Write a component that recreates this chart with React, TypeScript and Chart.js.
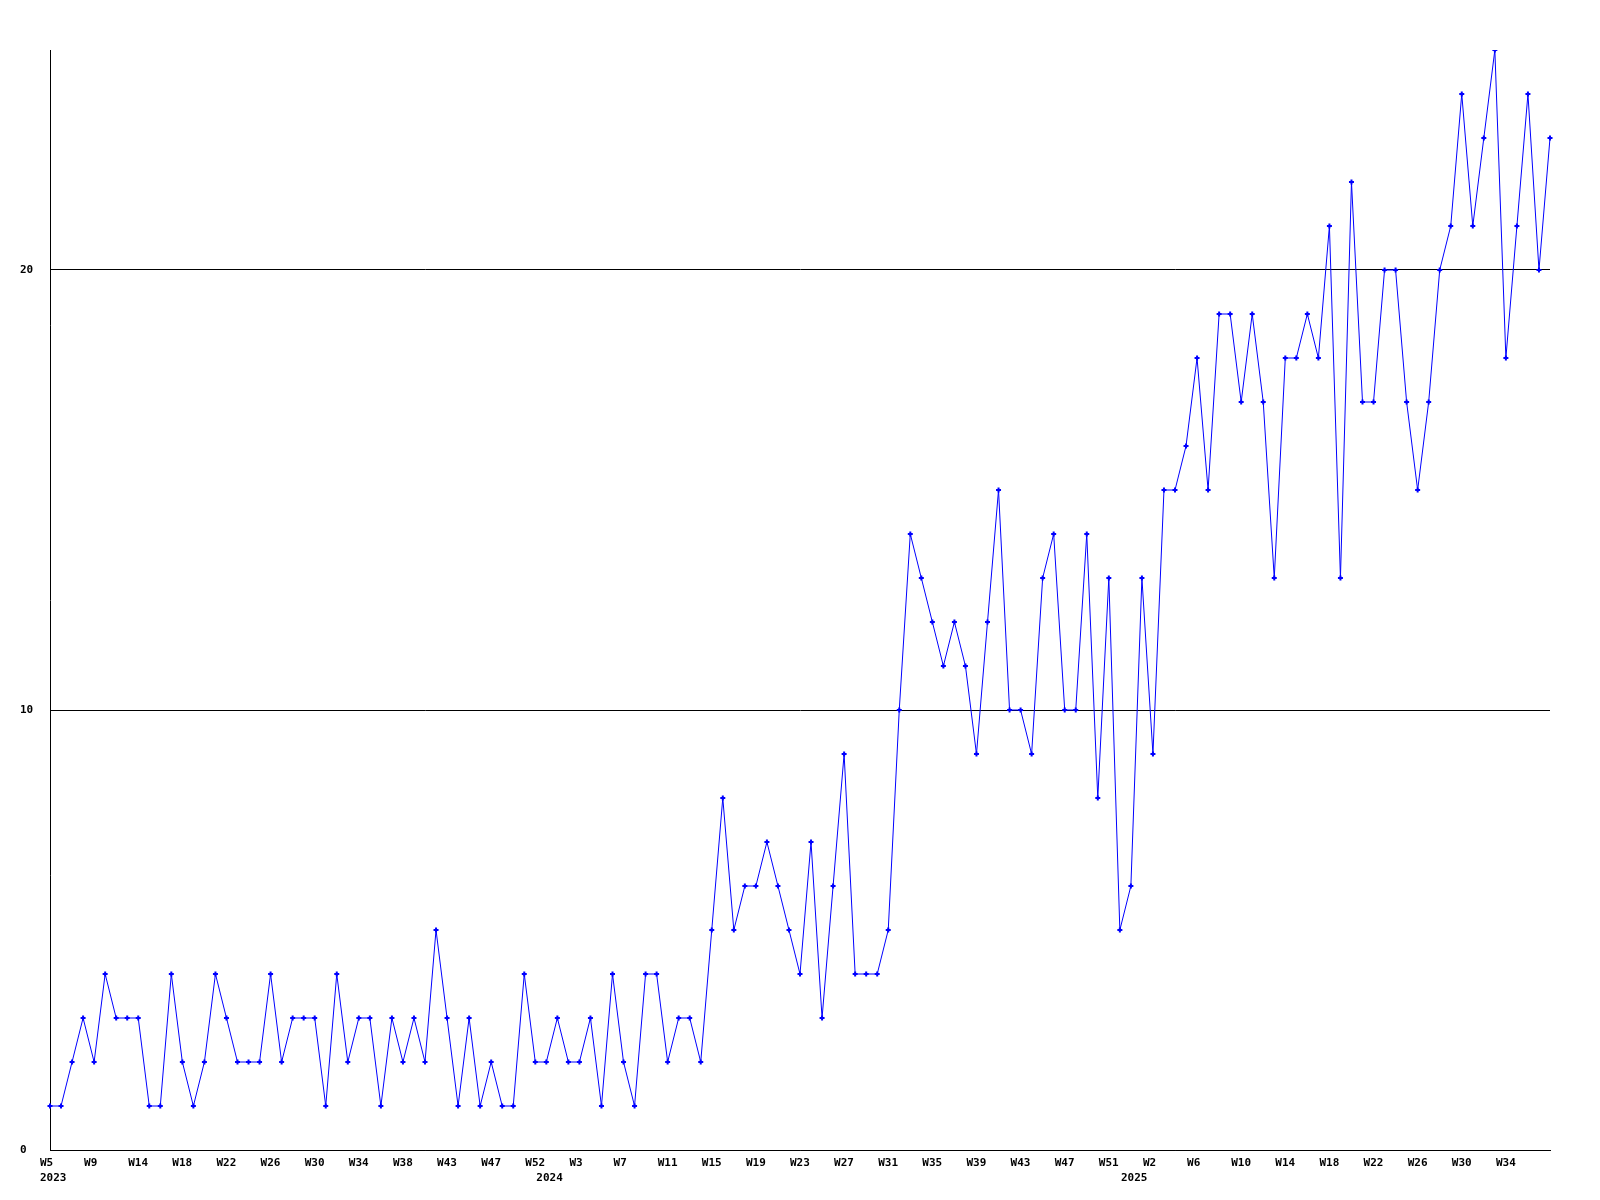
import React, { useEffect, useRef } from "react";
import { Chart, registerables } from "chart.js";

Chart.register(...registerables);

// Weekly counts, 2023 W5 .. 2025 (137 weeks)
const values: number[] = [
  1, 1, 2, 3, 2, 4, 3, 3, 3, 1, 1, 4, 2, 1, 2, 4, 3, 2, 2, 2, 4, 2, 3, 3, 3, 1, 4, 2, 3, 3, 1, 3, 2,
  3, 2, 5, 3, 1, 3, 1, 2, 1, 1, 4, 2, 2, 3, 2, 2, 3, 1, 4, 2, 1, 4, 4, 2, 3, 3, 2, 5,
  8, 5, 6, 6, 7, 6, 5, 4, 7, 3, 6, 9, 4, 4, 4, 5,
  10, 14, 13, 12, 11, 12, 11, 9, 12, 15, 10, 10, 9, 13, 14, 10, 10, 14, 8, 13, 5, 6, 13, 9,
  15, 15, 16, 18, 15, 19, 19, 17, 19, 17, 13, 18, 18, 19, 18, 21, 13, 22, 17, 17, 20, 20,
  17, 15, 17, 20, 21, 24, 21, 23, 25, 18, 21, 24, 20, 23,
];

// Week tick labels, one every 4th week
const weekLabels: string[] = [
  "W5", "W9", "W14", "W18", "W22", "W26", "W30", "W34", "W38", "W43", "W47", "W52",
  "W3", "W7", "W11", "W15", "W19", "W23", "W27", "W31", "W35", "W39", "W43", "W47", "W51",
  "W2", "W6", "W10", "W14", "W18", "W22", "W26", "W30", "W34",
];
const weekLabelStep = 4;

// Year labels and the week index where each year starts
const yearLabels: string[] = ["2023", "2024", "2025"];
const yearStartIndex: number[] = [0, 45, 98];

const yTicks: number[] = [0, 10, 20];

const categories: string[] = values.map((_, i) => String(i));

function tickLabel(i: number): string | string[] | null {
  const week = i % weekLabelStep === 0 ? weekLabels[i / weekLabelStep] : undefined;
  const yi = yearStartIndex.indexOf(i);
  const year = yi >= 0 ? yearLabels[yi] : undefined;
  if (week !== undefined && year !== undefined) return [week, year];
  if (year !== undefined) return ["", year];
  if (week !== undefined) return week;
  return null;
}

const FONT = { family: "'DejaVu Sans Mono', monospace", size: 11, weight: "bold" as const, lineHeight: 15 / 11 };

export default function App() {
  const ref = useRef<HTMLCanvasElement | null>(null);
  useEffect(() => {
    if (!ref.current) return;
    const chart = new Chart(ref.current, {
      type: "line",
      data: {
        labels: categories,
        datasets: [
          {
            data: values,
            borderColor: "#0000ff",
            backgroundColor: "#0000ff",
            borderWidth: 1,
            tension: 0,
            pointStyle: "cross",
            pointRadius: 2.5,
            pointBorderWidth: 2,
            pointBorderColor: "#0000ff",
            pointBackgroundColor: "#0000ff",
            fill: false,
          },
        ],
      },
      options: {
        responsive: false,
        animation: false,
        layout: { padding: { left: 20, right: 50, top: 50, bottom: 0 } },
        plugins: { legend: { display: false }, tooltip: { enabled: false } },
        scales: {
          x: {
            type: "category",
            offset: false,
            grid: { display: false },
            border: { display: true, color: "#000", width: 1 },
            ticks: {
              autoSkip: false,
              maxRotation: 0,
              minRotation: 0,
              align: "start",
              labelOffset: -10,
              padding: -2,
              color: "#000",
              font: FONT,
              callback: (_v: any, i: number) => tickLabel(i),
            },
            afterFit: (s: any) => {
              s.height = 50;
            },
          },
          y: {
            min: 0,
            max: 25,
            z: 1,
            grid: { color: "#000", lineWidth: 1, drawTicks: false },
            border: { display: true, color: "#000", width: 1 },
            ticks: {
              stepSize: 10,
              crossAlign: "far",
              padding: 0,
              color: "#000",
              font: FONT,
            },
            afterBuildTicks: (s: any) => {
              s.ticks = yTicks.map((v) => ({ value: v }));
            },
            afterFit: (s: any) => {
              s.width = 30;
            },
          },
        },
      },
    });
    return () => chart.destroy();
  }, []);
  return (
    <div style={{ position: "absolute", left: 0, top: 0, width: 1600, height: 1200, background: "#fff" }}>
      <canvas ref={ref} width={1600} height={1200} style={{ display: "block" }} />
    </div>
  );
}
